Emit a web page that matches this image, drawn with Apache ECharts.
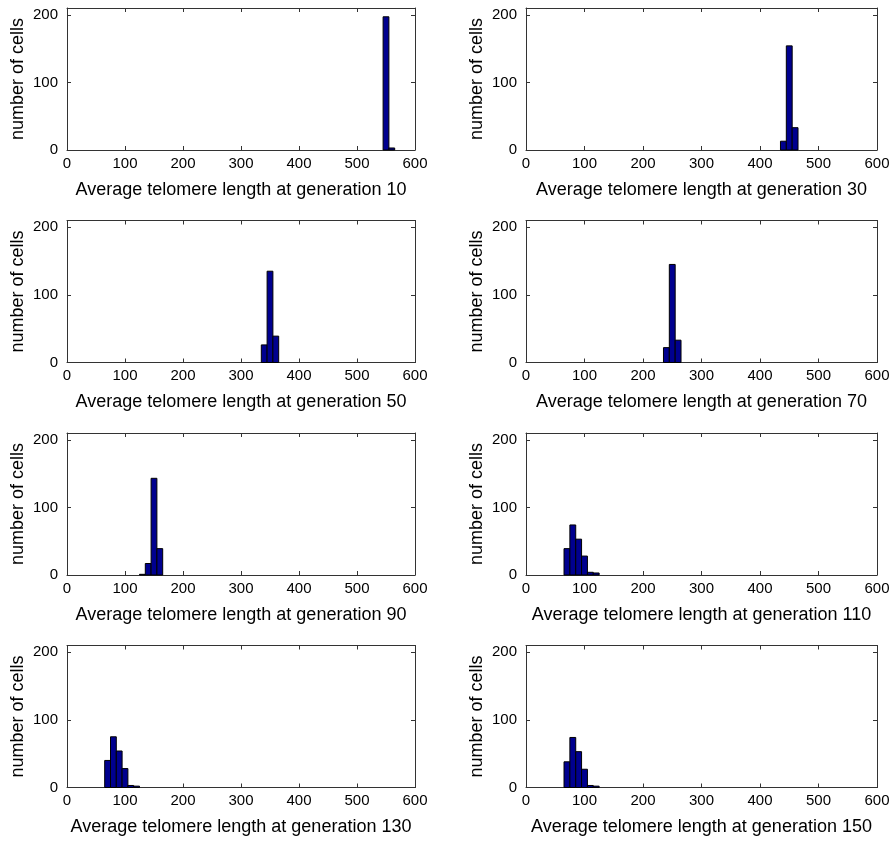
<!DOCTYPE html>
<html><head><meta charset="utf-8">
<script src="https://cdn.jsdelivr.net/npm/echarts@6/dist/echarts.min.js"></script>
<style>html,body{margin:0;padding:0;background:#fff}#c{width:894px;height:842px}</style>
</head><body><div id="c"></div>
<script>
// ---- data ----
const generations = [10, 30, 50, 70, 90, 110, 130, 150];
const binWidth = 10;
const xMin = 0, xMax = 600, xStep = 100;
const yMin = 0, yMax = 210, yStep = 100;

const centersGen10  = [550, 560];
const countsGen10   = [197, 3];
const centersGen30  = [440, 450, 460];
const countsGen30   = [13, 154, 33];
const centersGen50  = [340, 350, 360];
const countsGen50   = [26, 135, 39];
const centersGen70  = [240, 250, 260];
const countsGen70   = [22, 145, 33];
const centersGen90  = [130, 140, 150, 160];
const countsGen90   = [1, 17, 143, 39];
const centersGen110 = [70, 80, 90, 100, 110, 120];
const countsGen110  = [39, 74, 53, 28, 4, 3];
const centersGen130 = [70, 80, 90, 100, 110, 120];
const countsGen130  = [40, 75, 54, 28, 3, 2];
const centersGen150 = [70, 80, 90, 100, 110, 120];
const countsGen150  = [38, 74, 53, 27, 3, 2];

const histCenters = [centersGen10, centersGen30, centersGen50, centersGen70, centersGen90, centersGen110, centersGen130, centersGen150];
const histCounts  = [countsGen10, countsGen30, countsGen50, countsGen70, countsGen90, countsGen110, countsGen130, countsGen150];

// ---- chart ----
const FONT = 'Liberation Sans, Arial, sans-serif';
const chart = echarts.init(document.getElementById('c'), null, {renderer: 'canvas'});
const grids = [], xAxes = [], yAxes = [], series = [];
const lineStyle = {color: '#333', width: 1};
for (let i = 0; i < generations.length; i++) {
  const r = Math.floor(i / 2), c = i % 2;
  grids.push({left: c === 0 ? 67 : 526, width: c === 0 ? 348 : 351, top: 8 + 212.5 * r, height: 142, containLabel: false});
  xAxes.push({
    type: 'value', gridIndex: i, position: 'bottom', min: xMin, max: xMax, interval: xStep,
    name: 'Average telomere length at generation ' + generations[i],
    nameLocation: 'middle', nameGap: 31,
    nameTextStyle: {fontFamily: FONT, fontSize: 18, color: '#000'},
    axisLine: {show: true, onZero: false, lineStyle: lineStyle},
    axisTick: {show: true, inside: true, length: 4, lineStyle: lineStyle},
    axisLabel: {fontFamily: FONT, fontSize: 15, color: '#000', margin: 6},
    splitLine: {show: false}
  });
  xAxes.push({
    type: 'value', gridIndex: i, position: 'top', min: xMin, max: xMax, interval: xStep,
    axisLine: {show: true, onZero: false, lineStyle: lineStyle},
    axisTick: {show: true, inside: true, length: 4, lineStyle: lineStyle},
    axisLabel: {show: false}, splitLine: {show: false}
  });
  yAxes.push({
    type: 'value', gridIndex: i, position: 'left', min: yMin, max: yMax, interval: yStep,
    name: 'number of cells', nameLocation: 'middle', nameGap: 40, nameRotate: 90,
    nameTextStyle: {fontFamily: FONT, fontSize: 18, color: '#000'},
    axisLine: {show: true, onZero: false, lineStyle: lineStyle},
    axisTick: {show: true, inside: true, length: 4, lineStyle: lineStyle},
    axisLabel: {fontFamily: FONT, fontSize: 15, color: '#000', margin: 9, showMaxLabel: false},
    splitLine: {show: false}
  });
  yAxes.push({
    type: 'value', gridIndex: i, position: 'right', min: yMin, max: yMax, interval: yStep,
    axisLine: {show: true, onZero: false, lineStyle: lineStyle},
    axisTick: {show: true, inside: true, length: 4, lineStyle: lineStyle},
    axisLabel: {show: false}, splitLine: {show: false}
  });
  const data = histCenters[i].map((x, k) => [x, histCounts[i][k]]);
  series.push({
    type: 'custom', xAxisIndex: 2 * i, yAxisIndex: 2 * i, data: data, z: 3,
    renderItem: function (params, api) {
      const x = api.value(0), y = api.value(1);
      const p0 = api.coord([x - binWidth / 2, y]);
      const p1 = api.coord([x + binWidth / 2, 0]);
      return {type: 'rect', shape: {x: p0[0], y: p0[1], width: p1[0] - p0[0], height: p1[1] - p0[1]},
        style: {fill: '#00008f', stroke: '#000', lineWidth: 1}};
    }
  });
}
chart.setOption({animation: false, backgroundColor: '#fff', grid: grids, xAxis: xAxes, yAxis: yAxes, series: series});
</script></body></html>
